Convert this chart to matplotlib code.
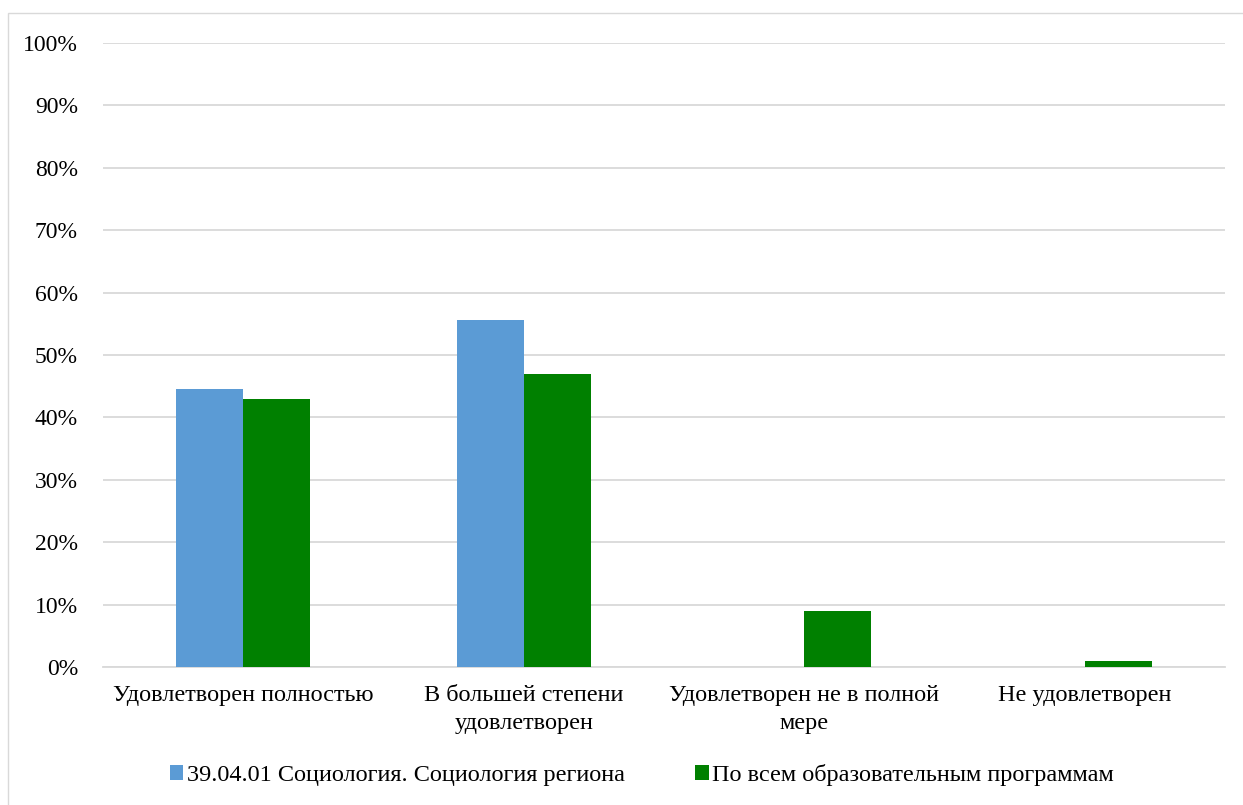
import numpy as np
import matplotlib.pyplot as plt
from matplotlib.patches import Rectangle
from matplotlib.ticker import PercentFormatter

categories = ["Удовлетворен полностью", "В большей степени\nудовлетворен",
              "Удовлетворен не в полной\nмере", "Не удовлетворен"]
series_names = ["39.04.01 Социология. Социология региона",
                "По всем образовательным программам"]
program = [44.5, 55.6, 0, 0]
all_programs = [43, 47, 9, 1]
yticks = np.arange(0, 101, 10)

plt.rcParams["font.family"] = ["Liberation Serif", "DejaVu Serif"]

fig = plt.figure(figsize=(12.43, 8.05), dpi=100)
ax = fig.add_axes([103 / 1243, 1 - 667 / 805, (1225 - 103) / 1243, (667 - 43) / 805])

x = np.arange(len(categories))
w = 0.239
ax.bar(x - w / 2, program, w, color="#5B9BD5", label=series_names[0], zorder=3)
ax.bar(x + w / 2, all_programs, w, color="#008000", label=series_names[1], zorder=3)

ax.set_xlim(-0.5, len(categories) - 0.5)
ax.set_ylim(0, 100)
ax.set_yticks(yticks)
ax.yaxis.set_major_formatter(PercentFormatter(decimals=0))
ax.grid(axis="y", color="#D9D9D9", linewidth=1.3, zorder=0)
ax.set_xticks(x)
ax.set_xticklabels(categories, fontsize=17.5, linespacing=1.45)
ax.tick_params(axis="y", labelsize=17, length=0, pad=18)
ax.tick_params(axis="x", length=0, pad=13)
for s in ["top", "right", "left"]:
    ax.spines[s].set_visible(False)
ax.spines["bottom"].set_color("#D9D9D9")
ax.spines["bottom"].set_linewidth(1.3)

fig.legend(loc="center", bbox_to_anchor=(642 / 1243, 1 - 775 / 805), ncol=2,
           frameon=False, fontsize=17.5, handlelength=0.55, handleheight=0.55,
           handletextpad=0.15, columnspacing=2.9)

fig.patches.append(Rectangle((8 / 1243, -0.01), 1.02, 1 - 13 / 805 + 0.01,
                             transform=fig.transFigure, fill=False,
                             edgecolor="#D9D9D9", linewidth=1))

fig.savefig("out.png", dpi=100)
